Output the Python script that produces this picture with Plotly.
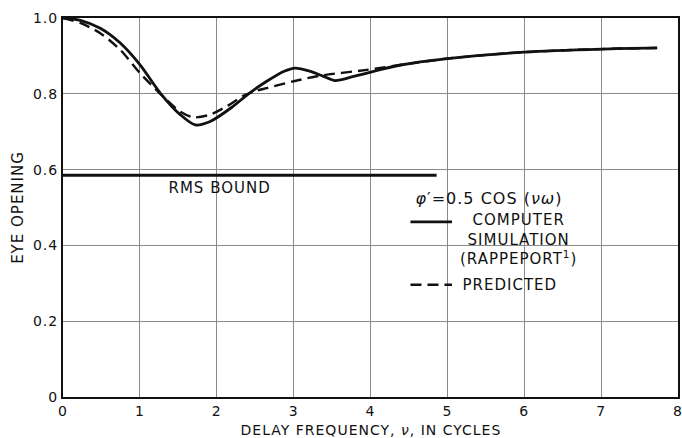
import plotly.graph_objects as go

# Eye opening vs. delay frequency for phi' = 0.5 cos(nu*omega)
sim_freq = [0.0, 0.225, 0.485, 0.745, 1.0, 1.265, 1.525, 1.72, 1.915, 2.2,
            2.4, 2.65, 2.87, 3.02, 3.22, 3.39, 3.54, 3.78, 4.04, 4.39, 5.0, 6.0,
            7.0, 7.73]
sim_eye = [1.0, 0.994, 0.973, 0.934, 0.877, 0.802, 0.745, 0.718, 0.727, 0.765,
           0.798, 0.833, 0.859, 0.868, 0.859, 0.846, 0.835, 0.846, 0.859, 0.876,
           0.893, 0.910, 0.918, 0.921]

pred_freq = [0.0, 0.225, 0.485, 0.745, 1.0, 1.265, 1.525, 1.70, 1.915, 2.13, 2.35,
             2.5, 2.65, 3.0, 3.35, 3.95, 4.39, 5.0, 6.0, 7.0, 7.73]
pred_eye = [1.0, 0.987, 0.960, 0.916, 0.855, 0.800, 0.753, 0.738, 0.745, 0.767, 0.795,
            0.807, 0.815, 0.833, 0.848, 0.863, 0.876, 0.893, 0.910, 0.918, 0.921]

rms_freq = [0.0, 4.86]
rms_eye = [0.585, 0.585]

x_ticks = [0, 1, 2, 3, 4, 5, 6, 7, 8]
x_labels = ["0", "1", "2", "3", "4", "5", "6", "7", "8"]
y_ticks = [0, 0.2, 0.4, 0.6, 0.8, 1.0]
y_labels = ["0", "0.2", "0.4", "0.6", "0.8", "1.0"]

FONT = "DejaVu Sans"
INK = "#111111"
DASH = "11px,6px"

fig = go.Figure()
fig.add_trace(go.Scatter(x=rms_freq, y=rms_eye, mode="lines",
                         line=dict(color=INK, width=3), showlegend=False))
fig.add_trace(go.Scatter(x=pred_freq, y=pred_eye, mode="lines",
                         line=dict(color=INK, width=2.4, dash=DASH, shape="spline",
                                   smoothing=0.8),
                         showlegend=False))
fig.add_trace(go.Scatter(x=sim_freq, y=sim_eye, mode="lines",
                         line=dict(color=INK, width=2.8, shape="spline", smoothing=0.8),
                         showlegend=False))

# Key drawn inside the plot area
fig.add_shape(type="line", x0=4.52, x1=5.06, y0=0.462, y1=0.462,
              line=dict(color=INK, width=2.8))
fig.add_shape(type="line", x0=4.52, x1=5.06, y0=0.296, y1=0.296,
              line=dict(color=INK, width=2.4, dash=DASH))

txt = dict(family=FONT, size=15, color=INK)
small = dict(family=FONT, size=14, color=INK)
fig.add_annotation(x=2.03, y=0.551, text="RMS BOUND", showarrow=False, font=txt)
fig.add_annotation(x=5.54, y=0.525, text="<i>φ</i>′=0.5 COS (<i>νω</i>)",
                   showarrow=False, font=dict(family=FONT, size=16, color=INK))
fig.add_annotation(x=5.92, y=0.4146, text="COMPUTER<br>SIMULATION<br>(RAPPEPORT<sup>1</sup>)",
                   showarrow=False, align="center", font=txt)
fig.add_annotation(x=5.235, y=0.296, text="PREDICTED", showarrow=False,
                   xanchor="left", font=txt)

# x-axis title placed below the tick labels
fig.add_annotation(x=0.5, y=-0.086, xref="paper", yref="paper", yanchor="middle",
                   text="DELAY FREQUENCY, <i>ν</i>, IN CYCLES", showarrow=False, font=small)

axis_common = dict(showline=True, linecolor=INK, linewidth=2, mirror=True,
                   showgrid=True, gridcolor="#8a8a8a", gridwidth=1,
                   zeroline=False, ticks="", tickfont=small, automargin=False,
                   ticklabeloverflow="allow")

fig.update_layout(
    width=682, height=438,
    margin=dict(l=63, r=4, t=18, b=41),
    paper_bgcolor="white", plot_bgcolor="white",
    xaxis=dict(range=[0, 8], tickvals=x_ticks, ticktext=x_labels, **axis_common),
    yaxis=dict(range=[0, 1], tickvals=y_ticks, ticktext=y_labels,
               title=dict(text="EYE OPENING", font=txt, standoff=9),
               **axis_common),
)

# Wide, lettering-style spacing for all chart text
spacing_js = ("document.querySelectorAll('.main-svg text')"
              ".forEach(function(t){t.style.letterSpacing='1px';});")

fig.write_html("out.html", post_script=spacing_js)
